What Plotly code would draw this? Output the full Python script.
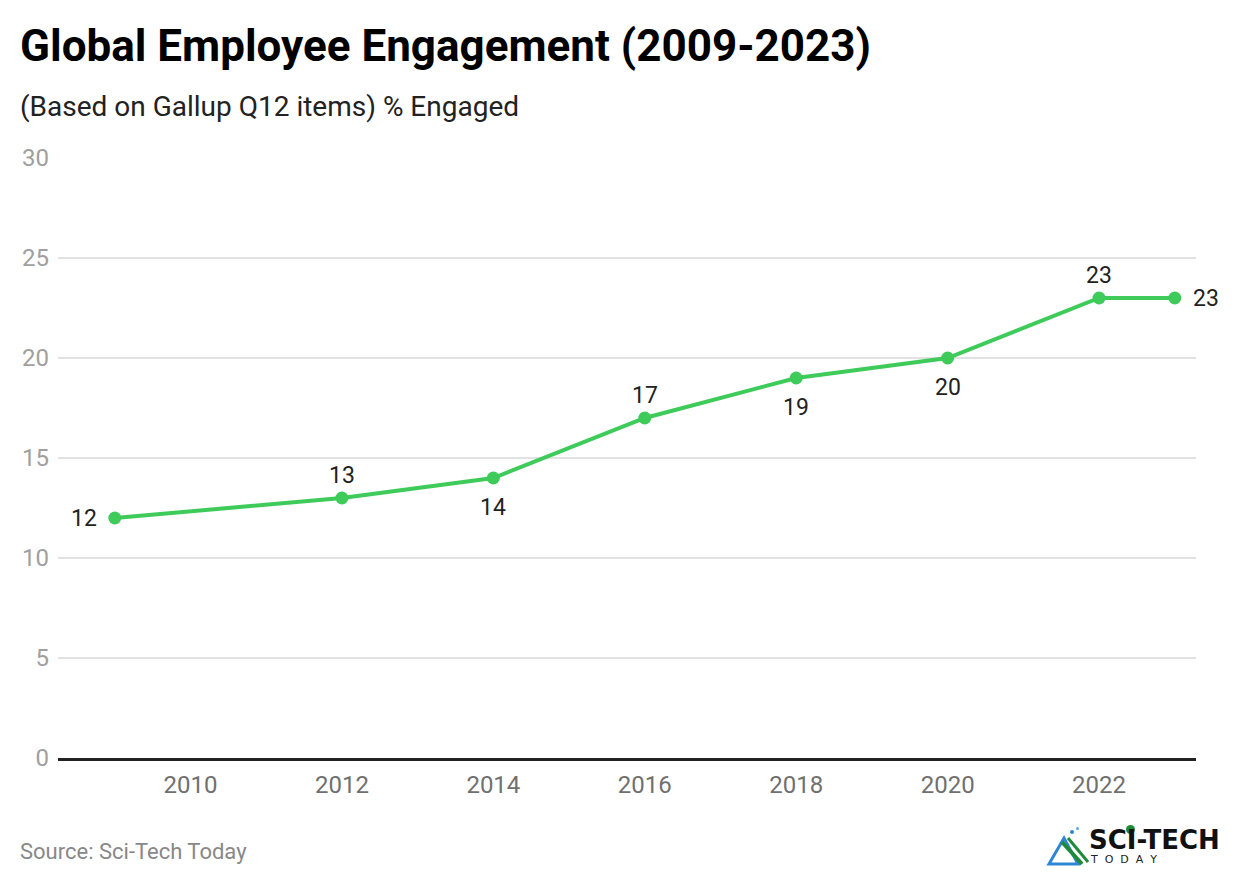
import plotly.graph_objects as go

years = [2009, 2012, 2014, 2016, 2018, 2020, 2022, 2023]
engaged = [12, 13, 14, 17, 19, 20, 23, 23]
label_side = ["left", "top", "bottom", "top", "bottom", "bottom", "top", "right"]
x_ticks = [2010, 2012, 2014, 2016, 2018, 2020, 2022]
y_ticks = [0, 5, 10, 15, 20, 25, 30]

# page has an 8px body margin; work in screen pixels and shift by OFF
OFF = 8
W, H = 1240 - OFF, 884 - OFF
L, R, T, B = 58, 1196, 158, 758


def px(x):
    return (x - L) / (R - L)


def py(y):
    return (B - y) / (B - T)


GREEN = "#3ecb5a"

fig = go.Figure()
fig.add_trace(go.Scatter(
    x=years, y=engaged, mode="lines+markers",
    line=dict(color=GREEN, width=4),
    marker=dict(color=GREEN, size=13),
    cliponaxis=False, hoverinfo="x+y", showlegend=False,
))

SHIFTS = {"left": (-31, 0), "right": (31, 0), "top": (0, 23), "bottom": (0, -29)}


def ann(text, x, y, size, color, family="Roboto"):
    return dict(text=text, x=px(x), y=py(y), xref="paper", yref="paper",
                xanchor="left", yanchor="middle", showarrow=False,
                font=dict(family=family, size=size, color=color))


annotations = []
for yr, v, side in zip(years, engaged, label_side):
    dx, dy = SHIFTS[side]
    annotations.append(dict(
        text=str(v), x=yr, y=v, xref="x", yref="y", showarrow=False,
        xanchor="center", yanchor="middle", xshift=dx, yshift=dy,
        font=dict(family="Roboto", size=23, color="#222222")))

annotations += [
    ann("<b>Global Employee Engagement (2009-2023)</b>", 18, 46, 44, "#000000"),
    ann("(Based on Gallup Q12 items) % Engaged", 18, 106, 28, "#222222"),
    ann("Source: Sci-Tech Today", 18, 851, 22, "#888888"),
    ann("<b>SCI-TECH</b>", 1087, 840, 26, "#111111", "DejaVu Sans"),
    ann("T  O  D  A  Y", 1088, 859, 11, "#222222", "DejaVu Sans"),
]

shapes = [
    dict(type="path", xref="paper", yref="paper",
         path=f"M {px(1049)} {py(864)} L {px(1064)} {py(838)} L {px(1078)} {py(864)} Z",
         line=dict(color="#2e86d6", width=3), fillcolor="rgba(0,0,0,0)"),
    dict(type="line", xref="paper", yref="paper",
         x0=px(1062), y0=py(842), x1=px(1082), y1=py(864),
         line=dict(color="#1f8a3a", width=4)),
    dict(type="line", xref="paper", yref="paper",
         x0=px(1068), y0=py(838), x1=px(1088), y1=py(862),
         line=dict(color="#1f8a3a", width=3)),
    dict(type="circle", xref="paper", yref="paper",
         x0=px(1070), y0=py(834), x1=px(1074), y1=py(830),
         fillcolor="#2e86d6", line=dict(width=0)),
    dict(type="circle", xref="paper", yref="paper",
         x0=px(1076), y0=py(830), x1=px(1079), y1=py(827),
         fillcolor="#5aa8e8", line=dict(width=0)),
    dict(type="circle", xref="paper", yref="paper",
         x0=px(1126), y0=py(834), x1=px(1135), y1=py(825),
         fillcolor="#1f8a3a", line=dict(width=0)),
]

fig.update_layout(
    width=W, height=H,
    margin=dict(l=L - OFF, r=W - (R - OFF), t=T - OFF, b=H - (B - OFF),
                autoexpand=False),
    paper_bgcolor="white", plot_bgcolor="white",
    font=dict(family="Roboto"),
    annotations=annotations, shapes=shapes,
    xaxis=dict(range=[2008.25, 2023.28], tickvals=x_ticks,
               showgrid=False, zeroline=False,
               showline=True, linecolor="#222222", linewidth=2.5,
               ticks="", ticklabelstandoff=3,
               tickfont=dict(family="Roboto", size=24, color="#707070")),
    yaxis=dict(range=[0, 30], tickvals=y_ticks,
               showgrid=True, gridcolor="#e2e2e2", gridwidth=1.5,
               zeroline=False, showline=False, ticks="",
               ticklabelstandoff=8,
               tickfont=dict(family="Roboto", size=24, color="#a0a0a0")),
)

fig.write_html("out.html")
